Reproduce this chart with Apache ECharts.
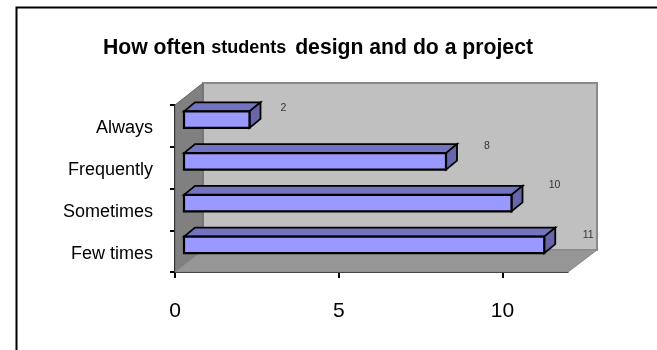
<!DOCTYPE html>
<html>
<head>
<meta charset="utf-8">
<style>html,body{margin:0;padding:0;background:#fff}#c{width:657px;height:350px}</style>
<script src="https://cdn.jsdelivr.net/npm/echarts@6/dist/echarts.min.js"></script>
</head>
<body>
<div id="c"></div>
<script>
const categories = ['Few times', 'Sometimes', 'Frequently', 'Always'];
const values = [11, 10, 8, 2];
const valueTicks = [0, 5, 10];

// 3D look: pixel depth of the pseudo-perspective, and layout constants
const DEPTH_X = 28, DEPTH_Y = -22;
const BAR_DX = 9, BAR_DY = -6.3, BAR_H = 16.5, BAR_DEPTH_X = 11, BAR_DEPTH_Y = -9;
const LABEL_NUDGE = [[44, -10], [43, -18], [41, -15], [34, -11]];
const FONT = '"Liberation Sans", Arial, sans-serif';

const chart = echarts.init(document.getElementById('c'), null, {renderer: 'canvas'});

function poly(points, fill, stroke, lw) {
  return {type: 'polygon', shape: {points}, style: {fill, stroke: stroke || 'none', lineWidth: lw || 0, lineJoin: 'miter'}};
}

function renderWalls(params, api) {
  const band = api.size([0, 1])[1];
  const first = api.coord([0, 0]), last = api.coord([0, categories.length - 1]);
  const end = api.coord([12, 0]);
  const o = [first[0], first[1] + band / 2];
  const r = [end[0], first[1] + band / 2];
  const t = [first[0], last[1] - band / 2];
  const bl = [o[0] + DEPTH_X, o[1] + DEPTH_Y];
  const br = [r[0] + DEPTH_X + 1, r[1] + DEPTH_Y];
  const tl = [t[0] + DEPTH_X, t[1] + DEPTH_Y];
  const tr = [br[0], tl[1]];
  return {type: 'group', children: [
    poly([tl, tr, br, bl], '#c0c0c0', '#8a8a8a', 2),
    poly([t, tl, bl, o], '#808080', '#666', 1),
    poly([o, bl, br, r], '#969696', '#8a8a8a', 1)
  ]};
}

function renderBar(params, api) {
  const v = api.value(0), c = api.value(1), i = params.dataIndex;
  const s = api.coord([0, c]), e = api.coord([v, c]);
  const x0 = s[0] + BAR_DX, x1 = e[0] + BAR_DX;
  const y0 = s[1] + BAR_DY - BAR_H / 2, y1 = y0 + BAR_H;
  const dx = BAR_DEPTH_X, dy = BAR_DEPTH_Y;
  return {type: 'group', children: [
    poly([[x0, y0], [x0 + dx, y0 + dy], [x1 + dx, y0 + dy], [x1, y0]], '#7373bf', '#000', 1.8),
    poly([[x1, y0], [x1 + dx, y0 + dy], [x1 + dx, y1 + dy], [x1, y1]], '#6666a8', '#000', 1.8),
    poly([[x0, y0], [x1, y0], [x1, y1], [x0, y1]], '#9999ff', '#000', 2.2),
    {type: 'text', style: {
      text: String(v),
      x: x1 + LABEL_NUDGE[i][0], y: y0 + BAR_H / 2 + LABEL_NUDGE[i][1],
      font: '10.5px ' + FONT, fill: '#333', align: 'center', verticalAlign: 'middle'
    }}
  ]};
}

chart.setOption({
  animation: false,
  backgroundColor: '#fff',
  title: {
    left: 98, top: 33,
    text: '{a|How often }{b|students}{a| design and do a project}',
    textStyle: {
      rich: {
        a: {fontFamily: FONT, fontWeight: 'bold', fontSize: 21.2, color: '#000'},
        b: {fontFamily: FONT, fontWeight: 'bold', fontSize: 18, color: '#000', padding: [0, 3, 0, 0]}
      }
    }
  },
  graphic: [{
    type: 'polyline', silent: true,
    shape: {points: [[16.5, 350], [16.5, 7.5], [657, 7.5]]},
    style: {stroke: '#000', lineWidth: 2, fill: 'none'}
  }],
  grid: {left: 175, top: 105, width: 393, height: 167, containLabel: false},
  xAxis: {
    type: 'value', min: 0, max: 12, interval: 5, splitLine: {show: false},
    axisLine: {show: true, onZero: false, lineStyle: {color: '#000', width: 1}},
    axisTick: {show: true, length: 6, inside: false, customValues: valueTicks, lineStyle: {color: '#000', width: 2}},
    axisLabel: {
      customValues: valueTicks, margin: 29, fontFamily: FONT, fontSize: 21, color: '#000'
    }
  },
  yAxis: {
    type: 'category', data: categories, boundaryGap: true,
    axisLine: {show: true, onZero: false, lineStyle: {color: '#000', width: 2}},
    axisTick: {show: true, alignWithLabel: false, length: 5, lineStyle: {color: '#000', width: 2}},
    axisLabel: {margin: 22, fontFamily: FONT, fontSize: 18, color: '#000', verticalAlign: 'top', lineHeight: 5}
  },
  series: [
    {type: 'custom', silent: true, z: 1, coordinateSystem: 'cartesian2d', renderItem: renderWalls, data: [[0, 0]], clip: false},
    {type: 'custom', silent: true, z: 2, coordinateSystem: 'cartesian2d', renderItem: renderBar,
     encode: {x: 0, y: 1}, data: values.map((v, i) => [v, i]), clip: false}
  ]
});
</script>
</body>
</html>
